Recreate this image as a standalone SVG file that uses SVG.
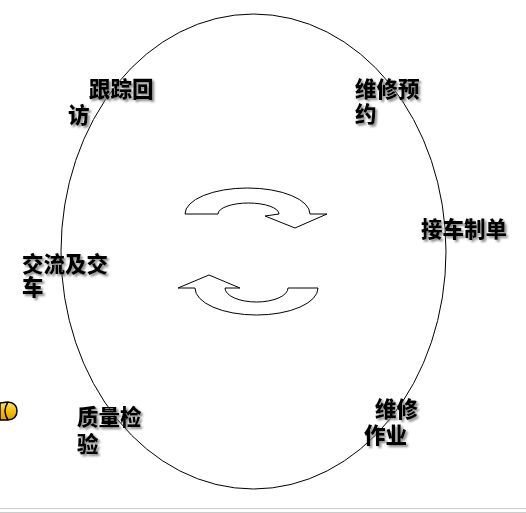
<svg xmlns="http://www.w3.org/2000/svg" width="526" height="513" viewBox="0 0 526 513">
<defs>
<filter id="sh" x="-20%" y="-20%" width="140%" height="160%">
<feDropShadow dx="2" dy="2" stdDeviation="1" flood-color="#777" flood-opacity="0.85"/>
</filter>
<linearGradient id="yg" x1="0" y1="0" x2="0" y2="1">
<stop offset="0" stop-color="#ffe680"/>
<stop offset="0.5" stop-color="#f5c000"/>
<stop offset="1" stop-color="#e89a00"/>
</linearGradient>
<style>
.lbl{font-family:"Noto Sans CJK SC","Liberation Sans",sans-serif;font-size:21.5px;font-weight:900;fill:#000;filter:url(#sh)}
.arr{fill:#fff;stroke:#000;stroke-width:1}
</style>
</defs>
<rect width="526" height="513" fill="#fff"/>
<g id="connectors">
<ellipse cx="253.5" cy="251.5" rx="192.5" ry="237.5" fill="none" stroke="#000" stroke-width="1"/>
</g>
<g id="cycle-arrows">
<path class="arr" d="M185,214 A62.5,26 0 0 1 310,214 L327,214 L295,228 L265,216 L279,214 A30.5,11 0 0 0 218,214 Z"/>
<path class="arr" d="M178,288 L209,275 L240,288 L225,288 A31.5,14 0 0 0 288,288 L318,288 A61.5,27 0 0 1 195,288 Z"/>
</g>
<g id="node-genzong"><text class="lbl" x="89" y="97">跟踪回</text><text class="lbl" x="68" y="123">访</text></g>
<g id="node-yuyue"><text class="lbl" x="355" y="97">维修预</text><text class="lbl" x="355" y="122">约</text></g>
<g id="node-jieche"><text class="lbl" x="421" y="237">接车制单</text></g>
<g id="node-jiaoliu"><text class="lbl" x="22" y="272">交流及交</text><text class="lbl" x="22" y="295">车</text></g>
<g id="node-zhiliang"><text class="lbl" x="77" y="425">质量检</text><text class="lbl" x="77" y="452">验</text></g>
<g id="node-zuoye"><text class="lbl" x="375" y="417">维修</text><text class="lbl" x="364" y="443">作业</text></g>
<g id="decor">
<path d="M0,403 L8,402 Q17,403 17,411 Q17,419 8,420 L0,420 Z" fill="url(#yg)" stroke="#000" stroke-width="1.5"/>
<path d="M8,402 Q2,411 8,420" fill="none" stroke="#000" stroke-width="1.5"/>
<line x1="0" y1="508.5" x2="526" y2="508.5" stroke="#ccc" stroke-width="1"/>
<line x1="0" y1="512.5" x2="526" y2="512.5" stroke="#ccc" stroke-width="1"/>
</g>
</svg>
